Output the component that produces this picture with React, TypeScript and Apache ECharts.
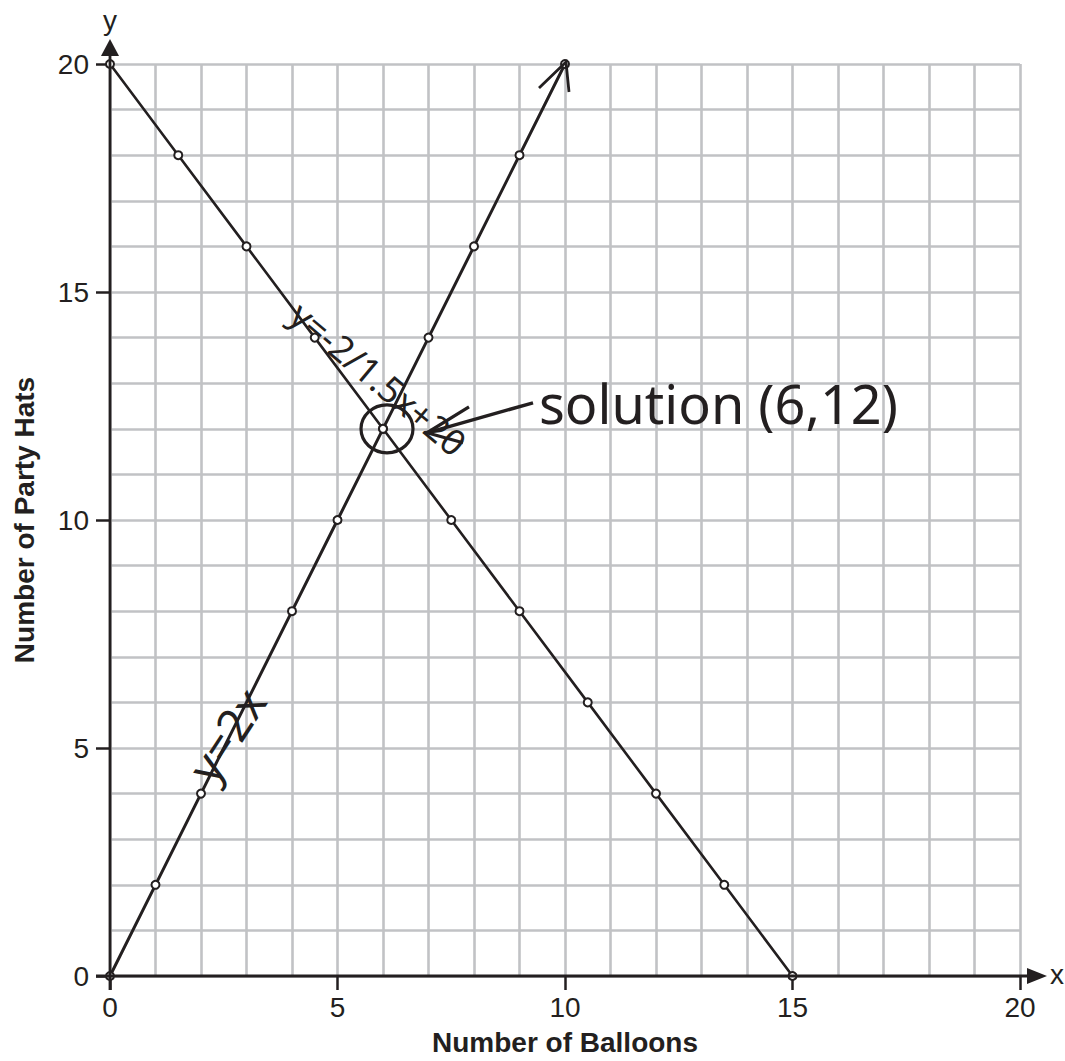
import React, { useEffect, useRef } from "react";
import * as echarts from "echarts";

// Axis ranges and labelled tick values
const AXIS_MIN = 0;
const AXIS_MAX = 20;
const LABEL_STEP = 5;

// Line A: party hats left when buying balloons (y = -2/1.5 x + 20)
const BALLOONS_A = [0, 1.5, 3, 4.5, 6, 7.5, 9, 10.5, 12, 13.5, 15];
const HATS_A = [20, 18, 16, 14, 12, 10, 8, 6, 4, 2, 0];

// Line B: y = 2x
const BALLOONS_B = [0, 1, 2, 3, 4, 5, 6, 7, 8, 9, 10];
const HATS_B = [0, 2, 4, 6, 8, 10, 12, 14, 16, 18, 20];
const UNMARKED_B = [3]; // no dot drawn here, the label covers it

// Intersection of the two lines
const SOLUTION = [6, 12];

const INK = "#231f20";
const GRID_GREY = "#c1c2c5";
const FONT = "'Liberation Sans', Arial, Helvetica, sans-serif";
const HAND = "'Noto Sans', 'DejaVu Sans', sans-serif";

export default function App() {
  const ref = useRef<HTMLDivElement>(null);

  useEffect(() => {
    if (!ref.current) return;
    const chart = echarts.init(ref.current, null, { renderer: "svg" });

    const gridAxis = (extra: any) => ({
      type: "value",
      min: AXIS_MIN,
      max: AXIS_MAX,
      interval: 1,
      gridIndex: 0,
      axisLine: { show: false },
      axisTick: { show: false },
      axisLabel: { show: false },
      splitLine: { show: true, lineStyle: { color: GRID_GREY, width: 2.6 } },
      ...extra,
    });

    const labelAxis = (extra: any) => ({
      type: "value",
      min: AXIS_MIN,
      max: AXIS_MAX,
      interval: LABEL_STEP,
      gridIndex: 0,
      axisLine: { show: false },
      axisTick: { show: true, length: 14, lineStyle: { color: INK, width: 2.5 } },
      splitLine: { show: false },
      nameLocation: "middle",
      nameTextStyle: { fontFamily: FONT, fontSize: 28, fontWeight: "bold", color: INK },
      ...extra,
    });

    const option: any = {
      animation: false,
      backgroundColor: "#ffffff",
      grid: { left: 110, top: 64, width: 910, height: 912, outerBoundsMode: "none", containLabel: false },
      xAxis: [
        gridAxis({ position: "bottom" }),
        labelAxis({
          position: "bottom",
          name: "Number of Balloons",
          nameGap: 52,
          axisLabel: { fontFamily: FONT, fontSize: 28, color: INK, margin: 17 },
        }),
      ],
      yAxis: [
        gridAxis({ position: "left" }),
        labelAxis({
          position: "left",
          name: "Number of Party Hats",
          nameGap: 72,
          axisLabel: { fontFamily: FONT, fontSize: 28, color: INK, margin: 21 },
        }),
      ],
      series: [
        {
          type: "line",
          xAxisIndex: 0,
          yAxisIndex: 0,
          data: BALLOONS_A.map((x, i) => [x, HATS_A[i]]),
          symbol: "emptyCircle",
          symbolSize: 8,
          lineStyle: { color: INK, width: 2.6 },
          itemStyle: { color: INK, borderWidth: 1.8 },
          z: 5,
        },
        {
          type: "line",
          xAxisIndex: 0,
          yAxisIndex: 0,
          data: BALLOONS_B.map((x, i) =>
            UNMARKED_B.includes(x)
              ? { value: [x, HATS_B[i]], symbol: "none" }
              : { value: [x, HATS_B[i]] }
          ),
          symbol: "emptyCircle",
          symbolSize: 8,
          lineStyle: { color: INK, width: 3 },
          itemStyle: { color: INK, borderWidth: 1.8 },
          z: 5,
        },
      ],
    };
    chart.setOption(option);

    const px = (x: number, y: number) => chart.convertToPixel({ gridIndex: 0 }, [x, y]) as number[];
    const o = px(AXIS_MIN, AXIS_MIN);
    const top = px(AXIS_MIN, AXIS_MAX);
    const right = px(AXIS_MAX, AXIS_MIN);
    const sol = px(SOLUTION[0], SOLUTION[1]);
    const tipB = px(BALLOONS_B[BALLOONS_B.length - 1], HATS_B[HATS_B.length - 1]);
    const noteA = px(5.9, 13.1);
    const noteB = px(2.55, 5.3);
    const ink = { stroke: INK, lineWidth: 2.8 };

    chart.setOption({
      graphic: [
        // y axis with arrow
        { type: "line", z: 20, shape: { x1: o[0], y1: o[1] + 14, x2: o[0], y2: top[1] - 12 }, style: ink },
        {
          type: "polygon",
          z: 20,
          shape: { points: [[o[0] - 9, top[1] - 8], [o[0], top[1] - 25], [o[0] + 9, top[1] - 8]] },
          style: { fill: INK },
        },
        // x axis with arrow
        { type: "line", z: 20, shape: { x1: o[0] - 14, y1: o[1], x2: right[0] + 12, y2: o[1] }, style: ink },
        {
          type: "polygon",
          z: 20,
          shape: { points: [[right[0] + 7, o[1] - 8], [right[0] + 27, o[1]], [right[0] + 7, o[1] + 8]] },
          style: { fill: INK },
        },
        {
          type: "text",
          z: 20,
          x: o[0],
          y: top[1] - 44,
          style: { text: "y", fontFamily: FONT, fontSize: 28, fill: INK, align: "center", verticalAlign: "middle" },
        },
        {
          type: "text",
          z: 20,
          x: right[0] + 30,
          y: o[1] - 2,
          style: { text: "x", fontFamily: FONT, fontSize: 28, fill: INK, align: "left", verticalAlign: "middle" },
        },
        // arrowhead at the end of y = 2x
        {
          type: "polyline",
          z: 20,
          shape: { points: [[tipB[0] - 26, tipB[1] + 24], [tipB[0] + 1, tipB[1] - 2], [tipB[0] + 4, tipB[1] + 28]] },
          style: { stroke: INK, lineWidth: 2.8, fill: null },
        },
        // circled solution point
        {
          type: "ellipse",
          z: 20,
          shape: { cx: sol[0] + 4, cy: sol[1], rx: 26, ry: 24 },
          style: { stroke: INK, lineWidth: 3.2, fill: null },
        },
        // pointer from the note to the solution
        {
          type: "polyline",
          z: 20,
          shape: { points: [[sol[0] + 150, sol[1] - 26], [sol[0] + 44, sol[1] + 4]] },
          style: { stroke: INK, lineWidth: 3.4, fill: null },
        },
        {
          type: "polyline",
          z: 20,
          shape: { points: [[sol[0] + 86, sol[1] - 22], [sol[0] + 44, sol[1] + 4], [sol[0] + 80, sol[1] + 14]] },
          style: { stroke: INK, lineWidth: 3.2, fill: null },
        },
        {
          type: "text",
          z: 20,
          x: sol[0] + 156,
          y: sol[1] - 26,
          style: {
            text: "solution (6,12)",
            fontFamily: HAND,
            fontSize: 54,
            fill: INK,
            align: "left",
            verticalAlign: "middle",
          },
        },
        // equation notes written along each line
        {
          type: "text",
          z: 20,
          x: noteA[0],
          y: noteA[1],
          rotation: (-40 * Math.PI) / 180,
          style: {
            text: "y=-2/1.5x+20",
            fontFamily: HAND,
            fontSize: 36,
            fill: INK,
            align: "center",
            verticalAlign: "middle",
          },
        },
        {
          type: "text",
          z: 20,
          x: noteB[0],
          y: noteB[1],
          rotation: (57 * Math.PI) / 180,
          style: {
            text: "y=2x",
            fontFamily: HAND,
            fontSize: 46,
            fill: INK,
            align: "center",
            verticalAlign: "middle",
          },
        },
      ],
    });

    return () => chart.dispose();
  }, []);

  return (
    <div
      ref={ref}
      style={{ position: "fixed", left: 0, top: 0, width: 1065, height: 1061, background: "#fff" }}
    />
  );
}
